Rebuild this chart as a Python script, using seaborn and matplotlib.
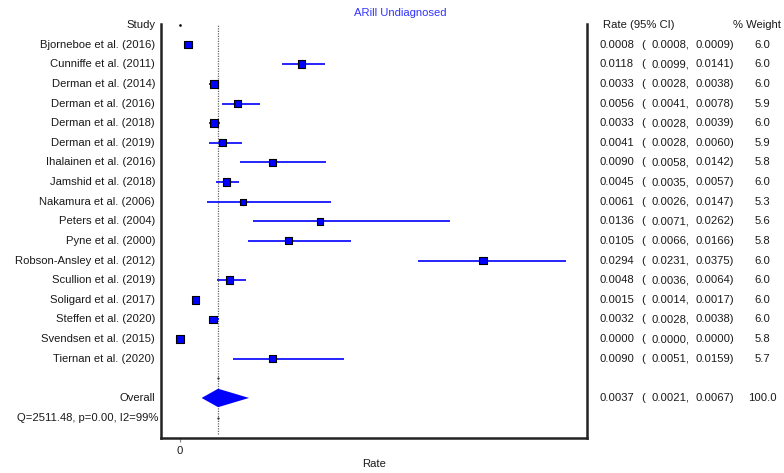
import numpy as np
import pandas as pd
import matplotlib
matplotlib.use("Agg")
import matplotlib.pyplot as plt
import matplotlib.transforms as mtransforms
import seaborn as sns

studies = ["Bjorneboe et al. (2016)", "Cunniffe et al. (2011)", "Derman et al. (2014)",
           "Derman et al. (2016)", "Derman et al. (2018)", "Derman et al. (2019)",
           "Ihalainen et al. (2016)", "Jamshid et al. (2018)", "Nakamura et al. (2006)",
           "Peters et al. (2004)", "Pyne et al. (2000)", "Robson-Ansley et al. (2012)",
           "Scullion et al. (2019)", "Soligard et al. (2017)", "Steffen et al. (2020)",
           "Svendsen et al. (2015)", "Tiernan et al. (2020)"]
rate = [0.0008, 0.0118, 0.0033, 0.0056, 0.0033, 0.0041, 0.0090, 0.0045, 0.0061,
        0.0136, 0.0105, 0.0294, 0.0048, 0.0015, 0.0032, 0.0000, 0.0090]
lower = [0.0008, 0.0099, 0.0028, 0.0041, 0.0028, 0.0028, 0.0058, 0.0035, 0.0026,
         0.0071, 0.0066, 0.0231, 0.0036, 0.0014, 0.0028, 0.0000, 0.0051]
upper = [0.0009, 0.0141, 0.0038, 0.0078, 0.0039, 0.0060, 0.0142, 0.0057, 0.0147,
         0.0262, 0.0166, 0.0375, 0.0064, 0.0017, 0.0038, 0.0000, 0.0159]
weight = [6.0, 6.0, 6.0, 5.9, 6.0, 5.9, 5.8, 6.0, 5.3, 5.6, 5.8, 6.0, 6.0, 6.0, 6.0, 5.8, 5.7]
overall_rate, overall_lower, overall_upper, overall_weight = 0.0037, 0.0021, 0.0067, 100.0
het_text = "Q=2511.48, p=0.00, I2=99%"
title = "ARill Undiagnosed"
x_ticks = [0]
x_ticklabels = ["0"]

sns.set_theme(style="white")
plt.rcParams['font.family'] = ['Liberation Sans', 'DejaVu Sans']
FS = 8.1
TXT = '#1a1a1a'

df = pd.DataFrame({"study": studies, "rate": rate, "lower": lower, "upper": upper,
                   "weight": weight})
df["row"] = np.arange(1, len(df) + 1)
overall_row = len(df) + 2
het_row = overall_row + 1

W, H = 784, 473
fig = plt.figure(figsize=(W / 100, H / 100), dpi=100)
ax = fig.add_axes([161 / W, 1 - 438 / H, 426 / W, (438 - 24) / H])

# CI lines
ax.hlines(df["row"], df["lower"], df["upper"], color='blue', lw=1.2, zorder=2)
# squares
sns.scatterplot(data=df, x="rate", y="row", size="weight", sizes=(18, 30),
                size_norm=(5.3, 6.0), marker='s', color='blue', edgecolor='black',
                linewidth=0.8, legend=False, ax=ax, zorder=3)

# reference dotted line at overall estimate
ax.axvline(overall_rate, ymin=0.01, ymax=1.0, color='#666666', lw=0.9,
           linestyle=(0, (1, 1)), zorder=1)
# overall diamond
ax.fill([overall_lower, overall_rate, overall_upper, overall_rate],
        [overall_row, overall_row - 0.47, overall_row, overall_row + 0.47],
        color='blue', lw=0, zorder=3)
# tiny marks
ax.plot([0], [0], marker='s', ms=0.8, color='black', lw=0)
ax.plot([overall_rate, overall_rate], [overall_row - 1, het_row], marker='s', ms=0.6,
        color='#333333', lw=0)

ax.set_xlim(-19 / 10300, 407 / 10300)
ax.set_ylim(21.04, -0.05)
ax.set_yticks([])
ax.set_xticks(x_ticks)
ax.set_xticklabels(x_ticklabels, fontsize=FS, color=TXT)
ax.tick_params(axis='x', direction='out', length=3, width=0.8, color='#888888',
               pad=3, bottom=True)
ax.set_xlabel("Rate", fontsize=FS, color=TXT, labelpad=2)
ax.set_ylabel("")
for s in ['left', 'bottom', 'right']:
    ax.spines[s].set_visible(True)
    ax.spines[s].set_color('#222222')
    ax.spines[s].set_linewidth(1.8)
ax.spines['top'].set_visible(False)

trans = mtransforms.blended_transform_factory(fig.transFigure, ax.transData)
kw = dict(transform=trans, fontsize=FS, color=TXT, va='center', clip_on=False)

ax.text(155 / W, 0, "Study", ha='right', **kw)
ax.text(603 / W, 0, "Rate (95% CI)", ha='left', **kw)
ax.text(733 / W, 0, "% Weight", ha='left', **kw)

def row_text(y, r, lo, up, w):
    ax.text(599 / W, y, f"{r:.4f}", ha='left', **kw)
    ax.text(641 / W, y, "(", ha='left', **kw)
    ax.text(651 / W, y, f"{lo:.4f},", ha='left', **kw)
    ax.text(696 / W, y, f"{up:.4f})", ha='left', **kw)
    ax.text(762 / W, y, f"{w:.1f}", ha='center', **kw)

for _, r in df.iterrows():
    ax.text(155 / W, r["row"], r["study"], ha='right', **kw)
    row_text(r["row"], r["rate"], r["lower"], r["upper"], r["weight"])

ax.text(155 / W, overall_row, "Overall", ha='right', **kw)
row_text(overall_row, overall_rate, overall_lower, overall_upper, overall_weight)
ax.text(158 / W, het_row, het_text, ha='right', **kw)

fig.text(400 / W, 1 - 13 / H, title, ha='center', va='center', fontsize=FS,
         color='#3333ff')

fig.savefig("out.png", dpi=100)
